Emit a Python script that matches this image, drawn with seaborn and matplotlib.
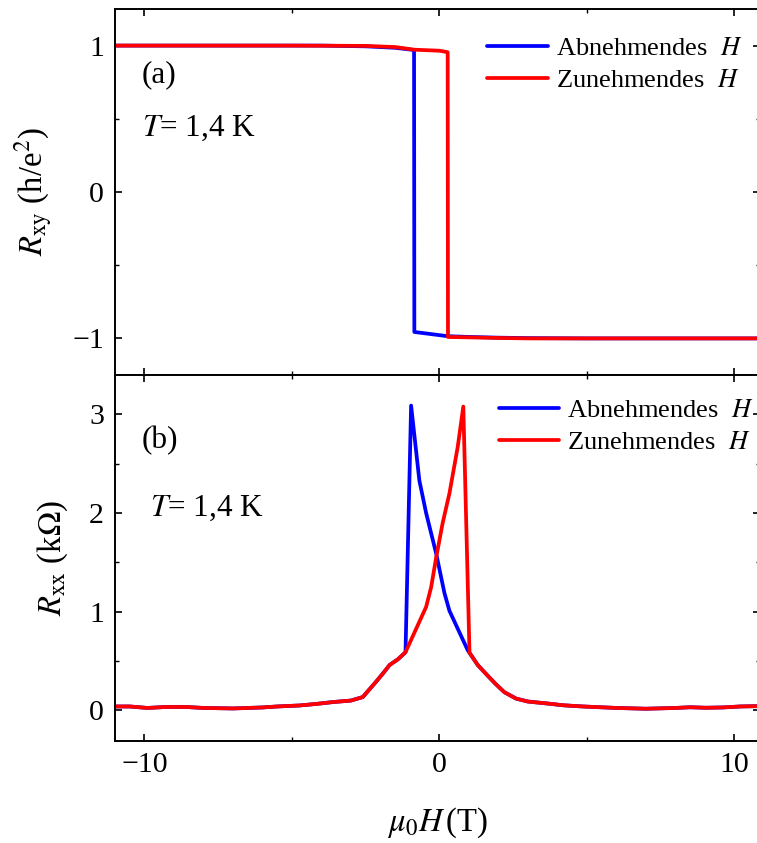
import numpy as np
import pandas as pd
import matplotlib
matplotlib.use("Agg")
import matplotlib.pyplot as plt
from matplotlib.ticker import MultipleLocator
import seaborn as sns

# Hall resistance R_xy (h/e^2) for both sweep directions
H_xy_down = [10.9, 8.0, 5.0, 3.0, 2.0, 1.0, 0.28, -0.5, -0.85, -0.86, -1.5, -2.5, -4.0, -11.0]
R_xy_down = [-1.0, -1.0, -1.0, -0.998, -0.995, -0.99, -0.985, -0.965, -0.956, 0.97, 0.985, 0.995, 1.0, 1.0]
H_xy_up = [-11.0, -5.0, -2.5, -1.5, -0.85, 0.0, 0.28, 0.29, 1.0, 2.0, 3.0, 5.0, 10.9]
R_xy_up = [1.0, 1.0, 0.998, 0.99, 0.972, 0.965, 0.955, -0.99, -0.993, -0.997, -1.0, -1.0, -1.0]

# Longitudinal resistance R_xx (kOhm)
H_xx_down = [10.9, 10.2, 9.6, 9.04, 8.5, 8.0, 7.0, 6.0, 4.86, 4.2, 3.73, 3.0, 2.6, 2.2, 1.9, 1.58,
             1.3, 0.96, 0.34, 0.17, -0.11, -0.45, -0.68, -0.96, -1.15, -1.4, -1.69, -1.9, -2.15,
             -2.6, -3.0, -3.6, -4.2, -4.75, -5.5, -6.0, -7.0, -8.0, -8.6, -9.27, -9.9, -10.5, -11.0]
R_xx_down = [0.044, 0.04, 0.03, 0.027, 0.032, 0.025, 0.017, 0.025, 0.04, 0.052, 0.068, 0.09, 0.12,
             0.185, 0.27, 0.37, 0.46, 0.61, 1.01, 1.19, 1.59, 2.0, 2.33, 3.09, 0.59, 0.52, 0.46,
             0.38, 0.29, 0.135, 0.1, 0.085, 0.065, 0.05, 0.04, 0.03, 0.02, 0.025, 0.035, 0.035,
             0.025, 0.04, 0.04]
H_xx_up = [-11.0, -10.5, -9.9, -9.27, -8.6, -8.0, -7.0, -6.0, -5.5, -4.75, -4.2, -3.6, -3.0,
           -2.6, -2.15, -1.9, -1.69, -1.4, -1.15, -0.45, -0.28, -0.11, 0.11, 0.34, 0.62, 0.81,
           1.02, 1.3, 1.58, 1.9, 2.2, 2.6, 3.0, 3.73, 4.2, 4.86, 6.0, 7.0, 8.0, 8.5, 9.04, 9.6,
           10.2, 10.9]
R_xx_up = [0.04, 0.04, 0.025, 0.035, 0.035, 0.025, 0.02, 0.03, 0.04, 0.05, 0.065, 0.085, 0.1,
           0.135, 0.29, 0.38, 0.46, 0.52, 0.59, 1.05, 1.25, 1.55, 1.9, 2.2, 2.67, 3.08, 0.585,
           0.46, 0.37, 0.27, 0.185, 0.12, 0.09, 0.068, 0.052, 0.04, 0.025, 0.017, 0.025, 0.032,
           0.027, 0.03, 0.04, 0.044]

sweep_labels = ["Abnehmendes  $H$", "Zunehmendes  $H$"]
sweep_colors = ["#0000ff", "#ff0000"]


def sweep_frame(h_down, r_down, h_up, r_up):
    parts = []
    for h, r, lab in ((h_down, r_down, sweep_labels[0]), (h_up, r_up, sweep_labels[1])):
        parts.append(pd.DataFrame({"H": h, "R": r, "sweep": lab}))
    return pd.concat(parts, ignore_index=True)


df_xy = sweep_frame(H_xy_down, R_xy_down, H_xy_up, R_xy_up)
df_xx = sweep_frame(H_xx_down, R_xx_down, H_xx_up, R_xx_up)

sns.set_theme(style="ticks")
plt.rcParams["font.family"] = ["Liberation Serif", "DejaVu Serif"]
plt.rcParams["mathtext.fontset"] = "stix"
plt.rcParams.update({
    "text.color": "black", "axes.labelcolor": "black", "axes.edgecolor": "black",
    "xtick.color": "black", "ytick.color": "black",
    "axes.linewidth": 1.4,
    "xtick.direction": "in", "ytick.direction": "in",
    "xtick.top": True, "ytick.right": True,
    "xtick.major.size": 5, "ytick.major.size": 5,
    "xtick.minor.size": 3, "ytick.minor.size": 3,
    "xtick.major.width": 1.2, "ytick.major.width": 1.2,
    "xtick.minor.width": 1.0, "ytick.minor.width": 1.0,
    "xtick.labelsize": 21.5, "ytick.labelsize": 21.5,
    "axes.labelsize": 23.5,
})

fig = plt.figure(figsize=(7.57, 8.43), dpi=100)
x0, x1 = 115 / 757, 760 / 757
ax_top = fig.add_axes([x0, 1 - 375 / 843, x1 - x0, 366 / 843])
ax_bot = fig.add_axes([x0, 1 - 741 / 843, x1 - x0, 366 / 843], sharex=ax_top)

palette = dict(zip(sweep_labels, sweep_colors))
for ax, df in ((ax_top, df_xy), (ax_bot, df_xx)):
    sns.lineplot(data=df, x="H", y="R", hue="sweep", palette=palette, hue_order=sweep_labels,
                 units="sweep", estimator=None, sort=False, lw=2.7, ax=ax)

ax_top.set_xlim(-11.0, 10.87)
ax_top.set_ylim(-1.25, 1.25)
ax_bot.set_ylim(-0.31, 3.40)

ax_top.xaxis.set_major_locator(MultipleLocator(10))
ax_top.xaxis.set_minor_locator(MultipleLocator(5))
ax_top.yaxis.set_major_locator(MultipleLocator(1))
ax_top.yaxis.set_minor_locator(MultipleLocator(0.5))
ax_bot.yaxis.set_major_locator(MultipleLocator(1))
ax_bot.yaxis.set_minor_locator(MultipleLocator(0.5))
for ax in (ax_top, ax_bot):
    ax.tick_params(which="both", top=True, right=True, direction="in")
    ax.tick_params(which="major", pad=8)
ax_top.tick_params(labelbottom=False)

ax_top.set_xlabel("")
ax_top.set_ylabel(r"$R_{\mathrm{xy}}$ (h/e$^{2}$)", labelpad=12)
ax_bot.set_ylabel(r"$R_{\mathrm{xx}}$ (k$\Omega$)", labelpad=14)
ax_bot.set_xlabel(r"$\mu_0 H\,$(T)", labelpad=20)

ax_top.text(-10.1, 0.80, "(a)", fontsize=22.5, ha="left", va="center")
ax_top.text(-10.1, 0.435, r"$T$= 1,4 K", fontsize=22.5, ha="left", va="center")
ax_bot.text(-10.1, 2.74, "(b)", fontsize=22.5, ha="left", va="center")
ax_bot.text(-9.8, 2.05, r"$T$= 1,4 K", fontsize=22.5, ha="left", va="center")

for ax, anchor in ((ax_top, (0.577, 0.925)), (ax_bot, (0.595, 0.935))):
    ax.legend(loc="upper left", bbox_to_anchor=anchor, frameon=False, fontsize=19,
              handlelength=2.3, handletextpad=0.3, labelspacing=0.33,
              borderpad=0, borderaxespad=0)

fig.savefig("out.png", dpi=100)
